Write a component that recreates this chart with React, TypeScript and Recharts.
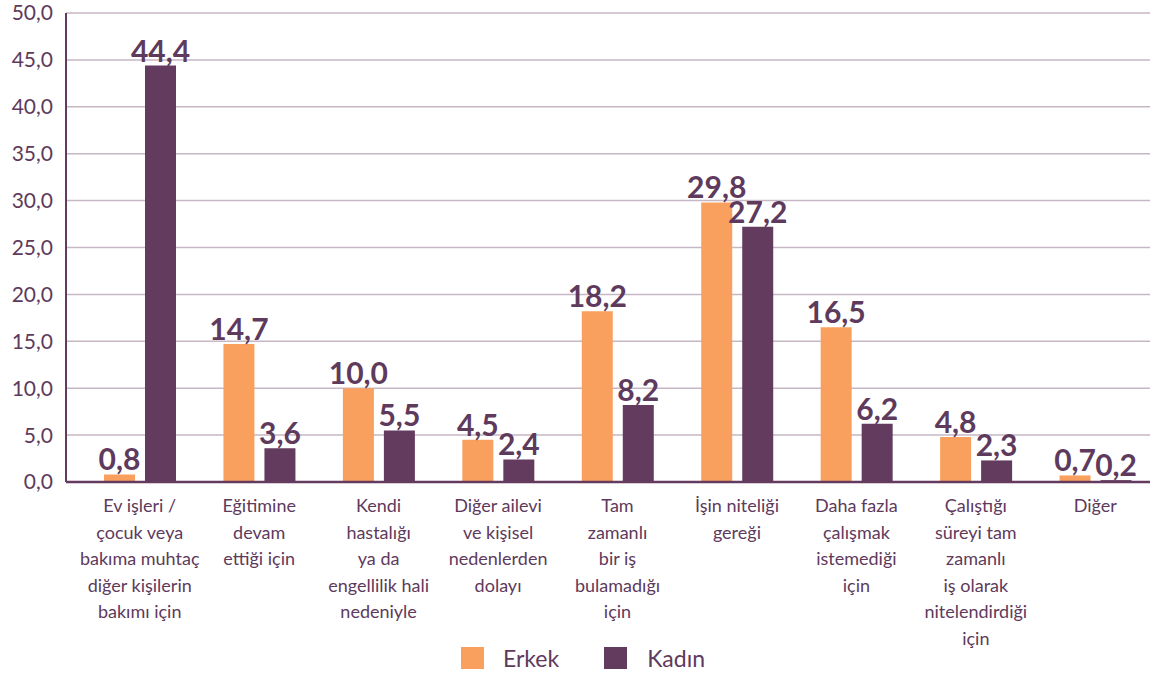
import React from 'react'
import { BarChart, Bar, XAxis, YAxis, CartesianGrid, Legend, LabelList } from 'recharts'

const categories = [
  ['Ev işleri /', 'çocuk veya', 'bakıma muhtaç', 'diğer kişilerin', 'bakımı için'],
  ['Eğitimine', 'devam', 'ettiği için'],
  ['Kendi', 'hastalığı', 'ya da', 'engellilik hali', 'nedeniyle'],
  ['Diğer ailevi', 've kişisel', 'nedenlerden', 'dolayı'],
  ['Tam', 'zamanlı', 'bir iş', 'bulamadığı', 'için'],
  ['İşin niteliği', 'gereği'],
  ['Daha fazla', 'çalışmak', 'istemediği', 'için'],
  ['Çalıştığı', 'süreyi tam', 'zamanlı', 'iş olarak', 'nitelendirdiği', 'için'],
  ['Diğer'],
]
const erkek = [0.8, 14.7, 10.0, 4.5, 18.2, 29.8, 16.5, 4.8, 0.7]
const kadin = [44.4, 3.6, 5.5, 2.4, 8.2, 27.2, 6.2, 2.3, 0.2]
const yTicks = [0, 5, 10, 15, 20, 25, 30, 35, 40, 45, 50]

const ORANGE = '#F9A05F'
const PURPLE = '#633B5E'
const TEXT = '#5E3A5C'
const FONT = 'Lato, "Noto Sans", sans-serif'

const data = categories.map((c, i) => ({ key: String(i), erkek: erkek[i], kadin: kadin[i] }))

const fmt = (v: number) => v.toFixed(1).replace('.', ',')

const CategoryTick = (props: any) => {
  const { x, y, payload } = props
  const lines = categories[Number(payload.value)] || []
  return (
    <text x={x} y={y} textAnchor="middle" fill={TEXT} fontSize={18} fontFamily={FONT}>
      {lines.map((l, i) => (
        <tspan key={i} x={x} y={y + 22 + i * 26.5}>{l}</tspan>
      ))}
    </text>
  )
}

const LegendContent = () => (
  <div style={{ display: 'flex', justifyContent: 'center', alignItems: 'center', height: 30, fontFamily: FONT, fontSize: 23, color: TEXT, paddingLeft: 16 }}>
    <span style={{ width: 23, height: 22, background: ORANGE, display: 'inline-block', marginRight: 19 }} />
    <span style={{ marginRight: 45 }}>Erkek</span>
    <span style={{ width: 23, height: 22, background: PURPLE, display: 'inline-block', marginRight: 20 }} />
    <span>Kadın</span>
  </div>
)

export default function App() {
  return (
    <div style={{ position: 'absolute', left: 0, top: 0, background: '#fff' }}>
      <BarChart
        width={1155}
        height={673}
        data={data}
        margin={{ top: 13, right: 5, bottom: 0, left: 0 }}
        barGap={10}
        barSize={31}
      >
        <CartesianGrid horizontal vertical={false} stroke="#C6B7C5" strokeWidth={1.5} />
        <XAxis
          dataKey="key"
          interval={0}
          height={161}
          tickLine={false}
          axisLine={{ stroke: PURPLE, strokeWidth: 2.5 }}
          tick={<CategoryTick />}
          padding={{ left: 14, right: -5 }}
        />
        <YAxis
          width={66}
          domain={[0, 50]}
          ticks={yTicks}
          interval={0}
          tickLine={false}
          tickMargin={7}
          axisLine={{ stroke: PURPLE, strokeWidth: 2 }}
          tickFormatter={fmt}
          tick={{ fill: TEXT, fontSize: 21, fontFamily: FONT }}
        />
        <Legend verticalAlign="bottom" content={<LegendContent />} />
        <Bar dataKey="erkek" name="Erkek" fill={ORANGE} isAnimationActive={false}>
          <LabelList dataKey="erkek" position="top" offset={4} formatter={(v: any) => fmt(Number(v))} fill={TEXT} fontSize={30} fontWeight={700} fontFamily={FONT} />
        </Bar>
        <Bar dataKey="kadin" name="Kadın" fill={PURPLE} isAnimationActive={false}>
          <LabelList dataKey="kadin" position="top" offset={4} formatter={(v: any) => fmt(Number(v))} fill={TEXT} fontSize={30} fontWeight={700} fontFamily={FONT} />
        </Bar>
      </BarChart>
    </div>
  )
}
